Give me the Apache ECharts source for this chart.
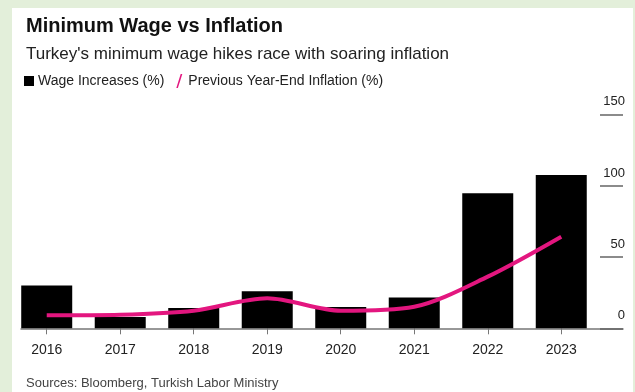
<!DOCTYPE html>
<html>
<head>
<meta charset="utf-8">
<script src="https://cdn.jsdelivr.net/npm/echarts@6/dist/echarts.min.js"></script>
<style>
  html, body { margin: 0; padding: 0; background: #e3efda; }
  #chart { width: 635px; height: 392px; }
</style>
</head>
<body>
<div id="chart"></div>
<script>
// Turkish minimum wage increases vs previous year-end CPI inflation
const years = [2016, 2017, 2018, 2019, 2020, 2021, 2022, 2023];
const wageIncreases = [30, 8, 14.2, 26, 15, 21.6, 94.6, 107.4];
const prevYearEndInflation = [9.1, 9.5, 12.3, 21.0, 12.3, 15.1, 36.2, 64.2];
const yTicks = [0, 50, 100, 150];

const MAGENTA = '#e3167f';
const FONT = '"Liberation Sans", Arial, sans-serif';

const chart = echarts.init(document.getElementById('chart'));

chart.setOption({
  backgroundColor: '#e3efda',
  animation: false,
  textStyle: { fontFamily: FONT },
  graphic: [{
    type: 'rect',
    z: -10,
    shape: { x: 12, y: 8, width: 621, height: 384 },
    style: { fill: '#ffffff' },
    silent: true
  }],
  title: [
    {
      text: 'Minimum Wage vs Inflation',
      left: 21, top: 11,
      textStyle: { fontSize: 20, fontWeight: 'bold', color: '#111', fontFamily: FONT }
    },
    {
      text: "Turkey's minimum wage hikes race with soaring inflation",
      left: 21, top: 41,
      textStyle: { fontSize: 17, fontWeight: 'normal', color: '#222', fontFamily: FONT }
    },
    {
      text: 'Sources: Bloomberg, Turkish Labor Ministry',
      left: 21, top: 372,
      textStyle: { fontSize: 13, fontWeight: 'normal', color: '#444', fontFamily: FONT }
    }
  ],
  legend: {
    left: 19, top: 69,
    itemWidth: 10, itemHeight: 14,
    itemGap: 12,
    textStyle: { fontSize: 14, color: '#222', fontFamily: FONT, padding: [0, 0, 0, -1] },
    data: [
      { name: 'Wage Increases (%)', icon: 'path://M0,0h9v9h-9z', itemStyle: { color: '#000' } },
      { name: 'Previous Year-End Inflation (%)', icon: 'path://M4.4,0 L6,0 L1.6,14 L0,14 Z', itemStyle: { color: MAGENTA } }
    ]
  },
  grid: { left: 21, right: 12, top: 114.3, bottom: 63.7 },
  xAxis: {
    type: 'value',
    min: 2015.65,
    max: 2023.84,
    splitLine: { show: false },
    axisLine: { show: true, onZero: false, lineStyle: { color: '#777', width: 1.5 } },
    axisTick: { show: true, customValues: years, length: 6, lineStyle: { color: '#777', width: 1 } },
    axisLabel: {
      customValues: years,
      formatter: v => String(v),
      margin: 15,
      fontSize: 14,
      color: '#222',
      fontFamily: FONT
    }
  },
  yAxis: {
    type: 'value',
    position: 'right',
    min: 0,
    max: 150,
    interval: 50,
    splitLine: { show: false },
    axisLine: { show: false },
    axisTick: { show: true, inside: true, length: 23, lineStyle: { color: '#666', width: 1.5 } },
    axisLabel: {
      inside: true,
      margin: -2,
      align: 'right',
      verticalAlign: 'bottom',
      padding: [0, 0, 6, 0],
      fontSize: 13,
      color: '#222',
      fontFamily: FONT,
      customValues: yTicks
    }
  },
  series: [
    {
      name: 'Wage Increases (%)',
      type: 'bar',
      barWidth: 51,
      itemStyle: { color: '#000' },
      data: years.map((y, i) => [y, wageIncreases[i]]),
      z: 2
    },
    {
      name: 'Previous Year-End Inflation (%)',
      type: 'line',
      smooth: 0.3,
      symbol: 'none',
      lineStyle: { color: MAGENTA, width: 4 },
      itemStyle: { color: MAGENTA },
      data: years.map((y, i) => [y, prevYearEndInflation[i]]),
      z: 3
    }
  ]
});
</script>
</body>
</html>
